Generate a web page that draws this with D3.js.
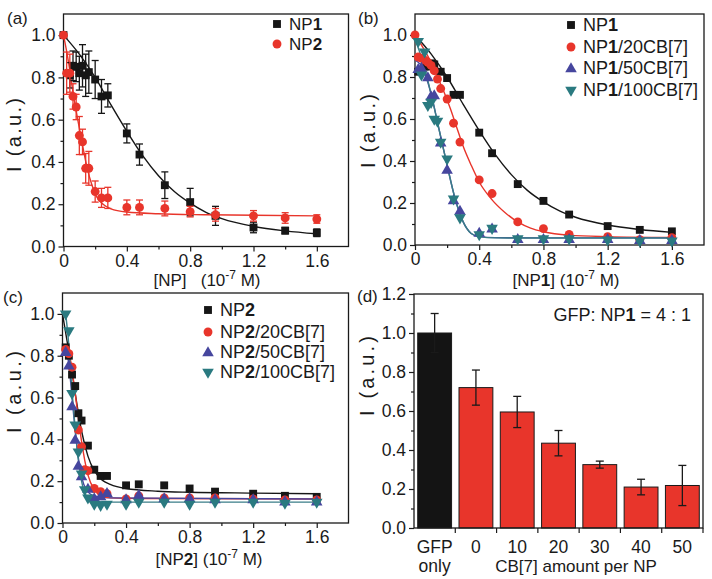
<!DOCTYPE html>
<html><head><meta charset="utf-8">
<script src="https://cdn.jsdelivr.net/npm/d3@7"></script>
<style>
body{margin:0;background:#fff}
text{font-family:"Liberation Sans",Arial,sans-serif;fill:#1a1a1a}
</style>
</head><body>
<svg id="chart" width="712" height="579"></svg>
<script>
// ---------- DATA ----------
const xTickValues = [0, 0.4, 0.8, 1.2, 1.6];
const xTickLabels = ["0", "0.4", "0.8", "1.2", "1.6"];
const xMinorTicks = [0.2, 0.6, 1.0, 1.4];
const yTickValues = [0, 0.2, 0.4, 0.6, 0.8, 1.0];
const yMinorTicks = [0.1, 0.3, 0.5, 0.7, 0.9];
const dTickValues = [0, 0.2, 0.4, 0.6, 0.8, 1.0, 1.2];
const dMinorTicks = [0.1, 0.3, 0.5, 0.7, 0.9, 1.1];

// panel (a)
const aNP1x   = [0, 0.04, 0.06, 0.08, 0.10, 0.12, 0.14, 0.16, 0.20, 0.24, 0.28, 0.40, 0.48, 0.64, 0.80, 0.96, 1.2, 1.4, 1.6];
const aNP1y   = [1.0, 0.81, 0.855, 0.85, 0.82, 0.855, 0.81, 0.825, 0.79, 0.71, 0.715, 0.535, 0.435, 0.29, 0.21, 0.145, 0.09, 0.075, 0.065];
const aNP1err = [0, 0.06, 0.07, 0.07, 0.08, 0.1, 0.1, 0.1, 0.09, 0.08, 0.055, 0.045, 0.05, 0.063, 0.065, 0.045, 0.025, 0.015, 0.018];
const aNP2x   = [0, 0.02, 0.04, 0.06, 0.08, 0.10, 0.12, 0.14, 0.16, 0.20, 0.24, 0.28, 0.40, 0.48, 0.64, 0.80, 0.96, 1.2, 1.4, 1.6];
const aNP2y   = [1.0, 0.82, 0.82, 0.71, 0.66, 0.525, 0.495, 0.37, 0.37, 0.26, 0.23, 0.23, 0.185, 0.185, 0.18, 0.165, 0.15, 0.145, 0.135, 0.13];
const aNP2err = [0, 0.1, 0.09, 0.06, 0.06, 0.09, 0.06, 0.07, 0.08, 0.05, 0.045, 0.05, 0.035, 0.035, 0.035, 0.025, 0.03, 0.025, 0.025, 0.02];
const aFit1x = [0, 0.1, 0.2, 0.3, 0.4, 0.5, 0.6, 0.7, 0.8, 0.9, 1.0, 1.2, 1.4, 1.6];
const aFit1y = [1.0, 0.91, 0.8, 0.67, 0.545, 0.43, 0.335, 0.26, 0.205, 0.162, 0.132, 0.095, 0.074, 0.06];
const aFit2x = [0, 0.03, 0.06, 0.09, 0.12, 0.15, 0.18, 0.21, 0.25, 0.3, 0.4, 0.6, 0.9, 1.6];
const aFit2y = [1.0, 0.88, 0.73, 0.6, 0.48, 0.37, 0.29, 0.235, 0.2, 0.178, 0.163, 0.155, 0.15, 0.145];

// panel (b)
const bNP1x = [0.02, 0.06, 0.08, 0.10, 0.12, 0.16, 0.20, 0.24, 0.28, 0.40, 0.48, 0.64, 0.80, 0.96, 1.2, 1.4, 1.6];
const bNP1y = [0.825, 0.85, 0.85, 0.865, 0.86, 0.825, 0.795, 0.715, 0.715, 0.535, 0.437, 0.29, 0.21, 0.145, 0.09, 0.072, 0.065];
const b20x  = [0, 0.02, 0.04, 0.06, 0.08, 0.10, 0.12, 0.14, 0.16, 0.20, 0.24, 0.28, 0.40, 0.48, 0.64, 0.80, 0.96, 1.2, 1.4, 1.6];
const b20y  = [1.0, 0.895, 0.89, 0.88, 0.87, 0.855, 0.83, 0.79, 0.745, 0.695, 0.58, 0.49, 0.31, 0.245, 0.11, 0.078, 0.05, 0.04, 0.025, 0.035];
const b50x  = [0.02, 0.04, 0.08, 0.10, 0.12, 0.16, 0.20, 0.24, 0.28, 0.40, 0.48, 0.64, 0.80, 0.96, 1.2, 1.4, 1.6];
const b50y  = [0.84, 0.845, 0.80, 0.71, 0.715, 0.49, 0.36, 0.215, 0.165, 0.06, 0.08, 0.03, 0.03, 0.03, 0.03, 0.025, 0.025];
const b100x = [0.02, 0.04, 0.06, 0.08, 0.10, 0.12, 0.14, 0.16, 0.20, 0.24, 0.28, 0.40, 0.48, 0.64, 0.80, 0.96, 1.2, 1.4, 1.6];
const b100y = [0.97, 0.81, 0.92, 0.665, 0.68, 0.6, 0.59, 0.49, 0.41, 0.22, 0.13, 0.05, 0.08, 0.03, 0.03, 0.03, 0.025, 0.02, 0.02];
const bFit1x = aFit1x;
const bFit1y = aFit1y;
const bFit20x = [0, 0.05, 0.1, 0.14, 0.18, 0.22, 0.26, 0.3, 0.35, 0.4, 0.48, 0.56, 0.64, 0.72, 0.8, 0.96, 1.2, 1.6];
const bFit20y = [1.0, 0.94, 0.87, 0.8, 0.73, 0.65, 0.56, 0.47, 0.38, 0.3, 0.215, 0.155, 0.11, 0.08, 0.063, 0.047, 0.04, 0.036];
const bFit50x = [0, 0.05, 0.1, 0.15, 0.2, 0.25, 0.3, 0.35, 0.4, 0.5, 0.8, 1.6];
const bFit50y = [0.88, 0.84, 0.72, 0.55, 0.38, 0.22, 0.11, 0.055, 0.04, 0.035, 0.034, 0.034];
const bFit100x = [0, 0.05, 0.1, 0.15, 0.2, 0.25, 0.3, 0.35, 0.4, 0.5, 0.8, 1.6];
const bFit100y = [0.98, 0.87, 0.72, 0.55, 0.38, 0.22, 0.11, 0.055, 0.04, 0.034, 0.033, 0.033];

// panel (c)
const cNP2x  = [0.02, 0.04, 0.06, 0.08, 0.10, 0.12, 0.16, 0.20, 0.24, 0.28, 0.40, 0.48, 0.64, 0.80, 0.96, 1.2, 1.4, 1.6];
const cNP2y  = [0.84, 0.8, 0.71, 0.655, 0.525, 0.49, 0.37, 0.255, 0.225, 0.225, 0.18, 0.185, 0.18, 0.165, 0.15, 0.14, 0.13, 0.125];
const c20x   = [0.02, 0.04, 0.06, 0.10, 0.12, 0.14, 0.16, 0.20, 0.24, 0.28, 0.40, 0.48, 0.64, 0.80, 0.96, 1.2, 1.4, 1.6];
const c20y   = [0.83, 0.81, 0.745, 0.445, 0.365, 0.255, 0.25, 0.165, 0.15, 0.14, 0.115, 0.13, 0.12, 0.12, 0.12, 0.115, 0.11, 0.11];
const c50x   = [0.02, 0.04, 0.06, 0.08, 0.10, 0.12, 0.16, 0.20, 0.24, 0.28, 0.40, 0.48, 0.64, 0.80, 0.96, 1.2, 1.4, 1.6];
const c50y   = [0.82, 0.755, 0.56, 0.4, 0.275, 0.225, 0.165, 0.12, 0.13, 0.145, 0.115, 0.135, 0.12, 0.12, 0.115, 0.115, 0.105, 0.105];
const c100x  = [0.02, 0.04, 0.06, 0.08, 0.10, 0.12, 0.14, 0.16, 0.20, 0.24, 0.28, 0.40, 0.48, 0.64, 0.80, 0.96, 1.2, 1.4, 1.6];
const c100y  = [1.0, 0.92, 0.62, 0.47, 0.34, 0.235, 0.16, 0.12, 0.09, 0.085, 0.09, 0.09, 0.1, 0.1, 0.09, 0.1, 0.1, 0.095, 0.1];
const cFit2x = [0, 0.04, 0.08, 0.12, 0.16, 0.2, 0.25, 0.3, 0.4, 0.6, 0.8, 1.2, 1.6];
const cFit2y = [1.0, 0.82, 0.62, 0.44, 0.32, 0.25, 0.205, 0.185, 0.165, 0.152, 0.147, 0.143, 0.14];
const cFit20x = [0.02, 0.05, 0.08, 0.1, 0.12, 0.14, 0.16, 0.2, 0.25, 0.3, 0.5, 1.6];
const cFit20y = [0.84, 0.78, 0.62, 0.5, 0.39, 0.3, 0.23, 0.16, 0.13, 0.12, 0.117, 0.115];
const cFit50x = [0.02, 0.04, 0.06, 0.08, 0.1, 0.12, 0.15, 0.2, 0.3, 1.6];
const cFit50y = [0.84, 0.76, 0.6, 0.44, 0.31, 0.22, 0.16, 0.13, 0.12, 0.115];
const cFit100x = [0.02, 0.04, 0.06, 0.08, 0.1, 0.12, 0.15, 0.2, 0.3, 1.6];
const cFit100y = [1.0, 0.85, 0.63, 0.45, 0.3, 0.2, 0.13, 0.105, 0.1, 0.1];

// panel (d)
const dCategories = ["GFP", "0", "10", "20", "30", "40", "50"];
const dValues = [1.0, 0.72, 0.595, 0.435, 0.325, 0.21, 0.218];
const dErrors = [0.1, 0.09, 0.08, 0.065, 0.018, 0.04, 0.103];

// ---------- STYLE ----------
const C = {black: "#161616", red: "#e8352b", blue: "#46469e", teal: "#2a7a80"};
const FS = 17, TFS = 17.5, LFS = 18, YFS = 20;
const svg = d3.select("#chart");

function richText(sel, parts) {
  parts.forEach(p => {
    sel.append("tspan").text(p.t).attr("font-weight", p.b ? "bold" : null);
  });
}

function symbolPath(shape) {
  const t = {square: d3.symbolSquare, circle: d3.symbolCircle, up: d3.symbolTriangle, down: d3.symbolTriangle}[shape];
  const size = {square: 62, circle: 62, up: 58, down: 58}[shape];
  return d3.symbol().type(t).size(size)();
}
function drawMarker(g, shape, color, cx, cy) {
  g.append("path").attr("d", symbolPath(shape))
    .attr("transform", `translate(${cx},${cy})` + (shape === "down" ? " rotate(180)" : "") + (shape === "up" ? " translate(0,1)" : ""))
    .attr("fill", color);
}

function frame(g, xr, yr) {
  g.append("rect").attr("x", xr[0]).attr("y", yr[1]).attr("width", xr[1] - xr[0]).attr("height", yr[0] - yr[1])
    .attr("fill", "none").attr("stroke", "#1a1a1a").attr("stroke-width", 1.3);
}

function styleAxis(ax) {
  ax.select(".domain").remove();
  ax.selectAll("line").attr("stroke", "#1a1a1a").attr("stroke-width", 1.2);
  ax.selectAll("text").attr("font-size", TFS).attr("fill", "#1a1a1a").attr("font-family", '"Liberation Sans",Arial,sans-serif');
}

function xTitle(g, cx, cy, parts) {
  const t = g.append("text").attr("x", cx).attr("y", cy).attr("text-anchor", "middle").attr("font-size", FS).style("white-space", "pre");
  richText(t, parts);
  t.append("tspan").text("(10");
  t.append("tspan").text("-7").attr("font-size", 12).attr("dy", -7);
  t.append("tspan").text(" M)").attr("dy", 7);
}
function yTitle(g, cx, cy, len) {
  g.append("text").attr("transform", `translate(${cx},${cy}) rotate(-90)`).attr("text-anchor", "middle")
    .attr("font-size", YFS).attr("textLength", len).attr("lengthAdjust", "spacing").text("I (a.u.)");
}

function scatterPanel(o) {
  const g = svg.append("g");
  const x = d3.scaleLinear().domain([0, 1.8]).range(o.xr);
  const y = d3.scaleLinear().domain([0, 1.1]).range(o.yr);
  frame(g, o.xr, o.yr);
  const bx = g.append("g").attr("transform", `translate(0,${o.yr[0]})`)
    .call(d3.axisBottom(x).tickValues(xTickValues).tickFormat((d, i) => xTickLabels[i]).tickSize(5).tickPadding(3));
  styleAxis(bx);
  const bxm = g.append("g").attr("transform", `translate(0,${o.yr[0]})`)
    .call(d3.axisBottom(x).tickValues(xMinorTicks).tickFormat("").tickSize(3));
  styleAxis(bxm);
  const ly = g.append("g").attr("transform", `translate(${o.xr[0]},0)`)
    .call(d3.axisLeft(y).tickValues(yTickValues).tickFormat(d3.format(".1f")).tickSize(5).tickPadding(3));
  styleAxis(ly);
  const lym = g.append("g").attr("transform", `translate(${o.xr[0]},0)`)
    .call(d3.axisLeft(y).tickValues(yMinorTicks).tickFormat("").tickSize(3));
  styleAxis(lym);

  const line = d3.line().x(d => x(d[0])).y(d => y(d[1])).curve(d3.curveMonotoneX);
  o.fits.forEach(f => {
    g.append("path").attr("d", line(d3.zip(f.x, f.y))).attr("fill", "none").attr("stroke", f.color).attr("stroke-width", 1.4);
  });
  o.series.forEach(s => {
    if (s.err) {
      s.x.forEach((xv, i) => {
        const e = s.err[i]; if (!e) return;
        const px = x(xv), y1 = y(s.y[i] + e), y2 = y(s.y[i] - e);
        g.append("line").attr("x1", px).attr("x2", px).attr("y1", y1).attr("y2", y2).attr("stroke", s.color).attr("stroke-width", 1.3);
        [y1, y2].forEach(yy => g.append("line").attr("x1", px - 3.5).attr("x2", px + 3.5).attr("y1", yy).attr("y2", yy).attr("stroke", s.color).attr("stroke-width", 1.3));
      });
    }
    s.x.forEach((xv, i) => drawMarker(g, s.shape, s.color, x(xv), y(s.y[i])));
  });
  o.series.forEach((s, i) => {
    const yy = o.legY[i];
    drawMarker(g, s.shape, s.color, o.legX, yy);
    const t = g.append("text").attr("x", o.legX + 12).attr("y", yy + 6).attr("font-size", o.legFS || LFS);
    richText(t, s.label);
  });
  g.append("text").attr("x", o.lab[0]).attr("y", o.lab[1]).attr("font-size", FS).text(o.label);
  yTitle(g, o.yt[0], o.yt[1], o.yt[2]);
  xTitle(g, o.xt[0], o.xt[1], o.xtParts);
  return g;
}

// (a)
scatterPanel({
  xr: [63.5, 348.5], yr: [246.5, 14],
  fits: [{x: aFit1x, y: aFit1y, color: C.black}, {x: aFit2x, y: aFit2y, color: C.red}],
  series: [
    {x: aNP1x, y: aNP1y, err: aNP1err, color: C.black, shape: "square", label: [{t: "NP"}, {t: "1", b: true}]},
    {x: aNP2x, y: aNP2y, err: aNP2err, color: C.red, shape: "circle", label: [{t: "NP"}, {t: "2", b: true}]}
  ],
  legX: 277, legY: [24, 44], legFS: 17,
  label: "(a)", lab: [7, 24],
  yt: [21, 135, 74], xt: [207, 286], xtParts: [{t: "[NP]   "}]
});

// (b)
scatterPanel({
  xr: [415, 704], yr: [245, 14],
  fits: [{x: bFit1x, y: bFit1y, color: C.black}, {x: bFit20x, y: bFit20y, color: C.red},
         {x: bFit50x, y: bFit50y, color: C.blue}, {x: bFit100x, y: bFit100y, color: "#3a7e88"}],
  series: [
    {x: bNP1x, y: bNP1y, color: C.black, shape: "square", label: [{t: "NP"}, {t: "1", b: true}]},
    {x: b20x, y: b20y, color: C.red, shape: "circle", label: [{t: "NP"}, {t: "1", b: true}, {t: "/20CB[7]"}]},
    {x: b50x, y: b50y, color: C.blue, shape: "up", label: [{t: "NP"}, {t: "1", b: true}, {t: "/50CB[7]"}]},
    {x: b100x, y: b100y, color: C.teal, shape: "down", label: [{t: "NP"}, {t: "1", b: true}, {t: "/100CB[7]"}]}
  ],
  legX: 571, legY: [25, 47, 68, 90],
  label: "(b)", lab: [358, 24],
  yt: [375, 131, 74], xt: [566, 286], xtParts: [{t: "[NP"}, {t: "1", b: true}, {t: "] "}]
});

// (c)
scatterPanel({
  xr: [62.5, 348.5], yr: [523, 293],
  fits: [{x: cFit2x, y: cFit2y, color: C.black}, {x: cFit20x, y: cFit20y, color: C.red},
         {x: cFit50x, y: cFit50y, color: C.blue}, {x: cFit100x, y: cFit100y, color: "#3a7e88"}],
  series: [
    {x: cNP2x, y: cNP2y, color: C.black, shape: "square", label: [{t: "NP"}, {t: "2", b: true}]},
    {x: c20x, y: c20y, color: C.red, shape: "circle", label: [{t: "NP"}, {t: "2", b: true}, {t: "/20CB[7]"}]},
    {x: c50x, y: c50y, color: C.blue, shape: "up", label: [{t: "NP"}, {t: "2", b: true}, {t: "/50CB[7]"}]},
    {x: c100x, y: c100y, color: C.teal, shape: "down", label: [{t: "NP"}, {t: "2", b: true}, {t: "/100CB[7]"}]}
  ],
  legX: 208, legY: [310, 332, 352, 372],
  label: "(c)", lab: [3, 303],
  yt: [21, 392, 82], xt: [209, 565], xtParts: [{t: "[NP"}, {t: "2", b: true}, {t: "] "}]
});

// (d)
(function () {
  const g = svg.append("g");
  const xr = [414, 703], yr = [528, 294];
  const x = d3.scaleBand().domain(dCategories).range(xr).paddingInner(0.18).paddingOuter(0.09);
  const y = d3.scaleLinear().domain([0, 1.2]).range(yr);
  g.selectAll("rect.bar").data(dCategories).enter().append("rect")
    .attr("x", d => x(d)).attr("width", x.bandwidth())
    .attr("y", (d, i) => y(dValues[i])).attr("height", (d, i) => y(0) - y(dValues[i]))
    .attr("fill", (d, i) => i === 0 ? "#141414" : C.red).attr("stroke", "#1a1a1a").attr("stroke-width", 1);
  dCategories.forEach((d, i) => {
    const cx = x(d) + x.bandwidth() / 2, y1 = y(dValues[i] + dErrors[i]), y2 = y(dValues[i] - dErrors[i]);
    g.append("line").attr("x1", cx).attr("x2", cx).attr("y1", y1).attr("y2", y2).attr("stroke", "#1a1a1a").attr("stroke-width", 1.3);
    [y1, y2].forEach(yy => g.append("line").attr("x1", cx - 4).attr("x2", cx + 4).attr("y1", yy).attr("y2", yy).attr("stroke", "#1a1a1a").attr("stroke-width", 1.3));
  });
  frame(g, xr, yr);
  const ly = g.append("g").attr("transform", `translate(${xr[0]},0)`)
    .call(d3.axisLeft(y).tickValues(dTickValues).tickFormat(d3.format(".1f")).tickSize(5).tickPadding(3));
  styleAxis(ly);
  const lym = g.append("g").attr("transform", `translate(${xr[0]},0)`)
    .call(d3.axisLeft(y).tickValues(dMinorTicks).tickFormat("").tickSize(3));
  styleAxis(lym);
  const step = x.step();
  dCategories.forEach(d => {
    const bx = x(d) + x.bandwidth() + (step - x.bandwidth()) / 2;
    g.append("line").attr("x1", bx).attr("x2", bx).attr("y1", yr[0]).attr("y2", yr[0] + 5).attr("stroke", "#1a1a1a").attr("stroke-width", 1.2);
  });
  dCategories.forEach(d => {
    g.append("text").attr("x", x(d) + x.bandwidth() / 2).attr("y", 553).attr("text-anchor", "middle").attr("font-size", TFS).text(d);
  });
  g.append("text").attr("x", x("GFP") + x.bandwidth() / 2).attr("y", 572).attr("text-anchor", "middle").attr("font-size", TFS).text("only");
  g.append("text").attr("x", 576).attr("y", 572).attr("text-anchor", "middle").attr("font-size", FS).text("CB[7] amount per NP");
  const ann = g.append("text").attr("x", 691).attr("y", 321).attr("text-anchor", "end").attr("font-size", LFS);
  richText(ann, [{t: "GFP: NP"}, {t: "1", b: true}, {t: " = 4 : 1"}]);
  g.append("text").attr("x", 357).attr("y", 302).attr("font-size", FS).text("(d)");
  yTitle(g, 374, 376, 80);
})();
</script>
</body></html>
